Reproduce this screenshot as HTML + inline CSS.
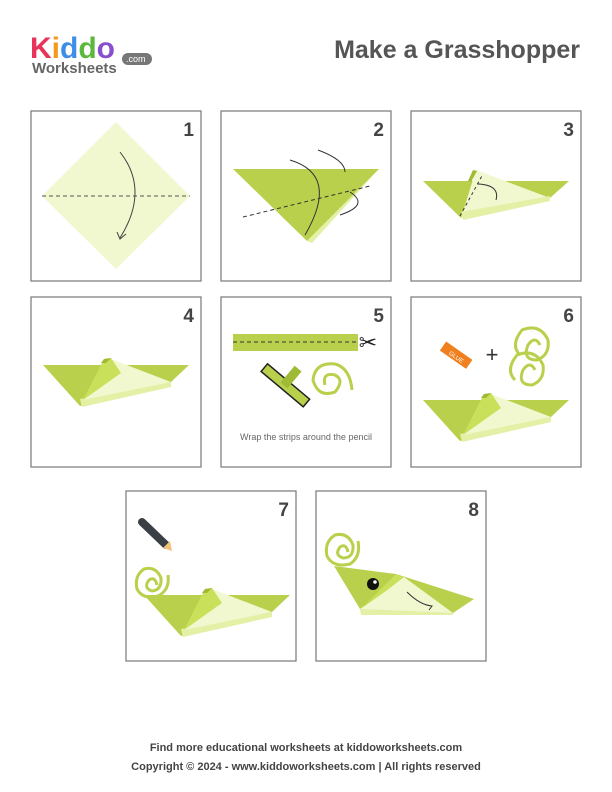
<!DOCTYPE html>
<html><head><meta charset="utf-8"><style>
body{margin:0;background:#fff;width:612px;height:792px;overflow:hidden;font-family:"Liberation Sans",sans-serif}
svg{position:absolute;left:0;top:0}
</style></head><body>
<svg width="612" height="792" viewBox="0 0 612 792">
<defs>
<g id="gh">
<polygon points="12,68 158,68 140,85 49,109" fill="#b8d04b"/>
<polygon points="49,102 140,85 140,90 51,110" fill="#e3f0a6"/>
<polygon points="80,62 140,85 52,103" fill="#f1f8cf"/>
<polygon points="73,62 80,61 90,76 52,103" fill="#c8e05a"/>
<polygon points="73,62 80,61 75,66 70,66" fill="#9fba35"/>
</g>
</defs>
<g>
<text x="30" y="58" font-size="30" font-weight="bold"><tspan fill="#e8345b">K</tspan><tspan fill="#f39a1e">i</tspan><tspan fill="#3c8ee6">d</tspan><tspan fill="#5cb83c">d</tspan><tspan fill="#8a4fcf">o</tspan></text>
<text x="32" y="73" font-size="15" font-weight="bold" fill="#666">Worksheets</text>
<rect x="122" y="53" width="30" height="12" rx="6" fill="#777"/>
<text x="126" y="62" font-size="9" fill="#fff">.com</text>
</g>
<text x="580" y="58" text-anchor="end" font-size="25" font-weight="bold" fill="#555">Make a Grasshopper</text>

<g fill="#fff" stroke="#777" stroke-width="1.2">
<rect x="31" y="111" width="170" height="170"/>
<rect x="221" y="111" width="170" height="170"/>
<rect x="411" y="111" width="170" height="170"/>
<rect x="31" y="297" width="170" height="170"/>
<rect x="221" y="297" width="170" height="170"/>
<rect x="411" y="297" width="170" height="170"/>
<rect x="126" y="491" width="170" height="170"/>
<rect x="316" y="491" width="170" height="170"/>
</g>
<g font-size="19" font-weight="bold" fill="#444" text-anchor="end">
<text x="194" y="136">1</text><text x="384" y="136">2</text><text x="574" y="136">3</text>
<text x="194" y="322">4</text><text x="384" y="322">5</text><text x="574" y="322">6</text>
<text x="289" y="516">7</text><text x="479" y="516">8</text>
</g>

<!-- step 1 -->
<polygon points="116,122 190,196 116,269 42,196" fill="#f1f8cf"/>
<line x1="42" y1="196" x2="190" y2="196" stroke="#555" stroke-dasharray="4,3"/>
<path d="M120,152 Q150,190 120,238" fill="none" stroke="#444"/>
<path d="M117,232 L120,239 L126,234" fill="none" stroke="#444"/>
<!-- step 2 -->
<polygon points="233,169 379,169 307,241" fill="#b8d04b"/>
<polygon points="379,169 307,241 312,243" fill="#e3f0a6"/>
<line x1="243" y1="217" x2="370" y2="186" stroke="#333" stroke-dasharray="4,3"/>
<path d="M290,160 Q340,175 305,235" fill="none" stroke="#333"/>
<path d="M318,150 Q345,160 345,172" fill="none" stroke="#333"/>
<path d="M350,192 Q370,205 340,215" fill="none" stroke="#333"/>
<!-- step 3 -->
<polygon points="423,181 569,181 550,198 461,218" fill="#b8d04b"/>
<polygon points="476,170 550,198 461,218" fill="#f1f8cf"/>
<polygon points="461,212 550,196 550,201 463,220" fill="#e3f0a6"/>
<polygon points="473,170 477,171 471,182 468,181" fill="#9fba35"/>
<line x1="460" y1="216" x2="483" y2="174" stroke="#333" stroke-dasharray="3,3"/>
<path d="M478,184 Q500,185 496,200" fill="none" stroke="#333"/>
<!-- step 4 -->
<use href="#gh" x="31" y="297"/>
<!-- step 5 -->
<rect x="233" y="334" width="125" height="17" fill="#b8d04b"/>
<line x1="233" y1="342" x2="356" y2="342" stroke="#333" stroke-dasharray="4,3"/>
<text x="368" y="350" font-size="22" text-anchor="middle" fill="#222">✂</text>
<g transform="rotate(40 285 385)"><rect x="258" y="380" width="55" height="10" fill="#b8d04b" stroke="#222" stroke-width="1.5"/><rect x="280" y="364" width="9" height="22" fill="#9fba35"/></g>
<path d="M325,385 Q322,372 335,375 Q345,380 335,392 Q318,398 313,380 Q315,362 335,364 Q350,368 352,390" fill="none" stroke="#b8d04b" stroke-width="3"/>
<text x="306" y="440" font-size="9" fill="#666" text-anchor="middle">Wrap the strips around the pencil</text>
<!-- step 6 -->
<g transform="rotate(35 455 355)"><rect x="440" y="349" width="32" height="11" fill="#f07f1e"/><text x="449" y="358" font-size="6" fill="#fff">GLUE</text></g>
<text x="492" y="362" font-size="22" text-anchor="middle" fill="#333">+</text>
<path d="M540,345 Q535,335 528,345 Q522,360 537,360 Q550,355 548,340 Q540,323 522,330 Q510,345 520,355" fill="none" stroke="#b8d04b" stroke-width="3"/>
<path d="M535,370 Q530,360 523,370 Q517,385 532,385 Q545,380 543,365 Q535,348 517,355 Q505,370 515,380" fill="none" stroke="#b8d04b" stroke-width="3"/>
<use href="#gh" x="411" y="332"/>
<!-- step 7 -->
<line x1="142" y1="522" x2="166" y2="545" stroke="#3a3f45" stroke-width="8" stroke-linecap="round"/>
<polygon points="163,548 170,541 172,551" fill="#f2c27a"/>
<path d="M157,585 Q155,576 149,580 Q143,588 152,591 Q162,590 161,578 Q156,566 144,569 Q134,576 137,589 Q143,600 158,596 Q170,590 168,575" fill="none" stroke="#b8d04b" stroke-width="3"/>
<use href="#gh" x="132" y="527"/>
<!-- step 8 -->
<polygon points="334,566 396,574 474,599 453,613 360,609" fill="#b8d04b"/>
<polygon points="404,577 453,613 360,609" fill="#f1f8cf"/>
<polygon points="360,609 453,613 453,615 361,615" fill="#e3f0a6"/>
<polygon points="396,574 404,577 386,591 362,608" fill="#c8e05a"/>
<circle cx="373" cy="584" r="6" fill="#111"/>
<circle cx="375" cy="582" r="1.8" fill="#fff"/>
<path d="M407,592 Q420,605 432,606 L429,610" fill="none" stroke="#333"/>
<path d="M348,552 Q346,543 340,547 Q334,555 343,558 Q354,558 353,545 Q348,532 335,535 Q324,542 327,556 Q333,568 350,564 Q361,557 358,541" fill="none" stroke="#b8d04b" stroke-width="3"/>

<text x="306" y="751" font-size="11" font-weight="bold" fill="#444" text-anchor="middle">Find more educational worksheets at kiddoworksheets.com</text>
<text x="306" y="770" font-size="11" font-weight="bold" fill="#444" text-anchor="middle">Copyright © 2024 - www.kiddoworksheets.com  |  All rights reserved</text>
</svg>
</body></html>
